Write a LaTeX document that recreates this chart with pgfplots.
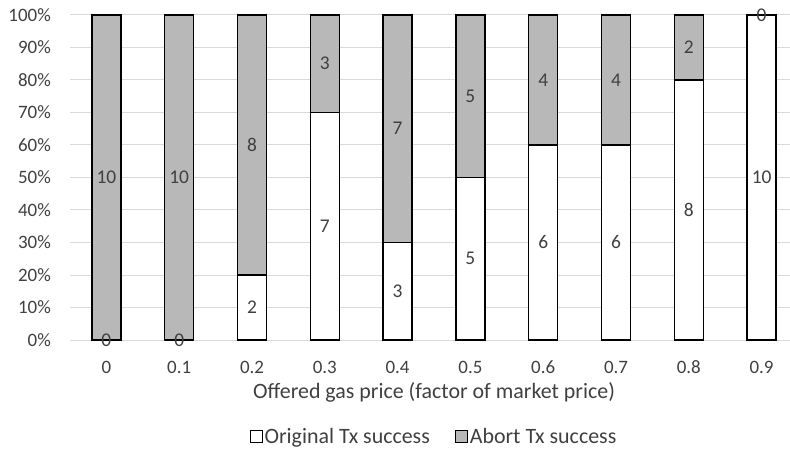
\documentclass[border=0pt]{standalone}
\usepackage{pgfplots}
\pgfplotsset{compat=1.18}
\usepackage{fontspec}
\setmainfont{Carlito}
\definecolor{abortgray}{RGB}{184,184,184}
\definecolor{gridgray}{RGB}{217,217,217}
\definecolor{txt}{RGB}{64,64,64}
\pgfplotsset{geom/.style={
  at={(0,0)}, anchor=south west,
  scale only axis, width=728bp, height=325bp,
  xmin=-0.5, xmax=9.5, ymin=0, ymax=10}}
\begin{document}
\begin{tikzpicture}
\useasboundingbox (-70bp,-112bp) rectangle (720bp,340bp);
\begin{axis}[
  geom,
  ybar stacked, bar width=29bp,
  xtick={0,...,9},
  xticklabels={0,0.1,0.2,0.3,0.4,0.5,0.6,0.7,0.8,0.9},
  ytick={0,...,10},
  yticklabels={0\%,10\%,20\%,30\%,40\%,50\%,60\%,70\%,80\%,90\%,100\%},
  axis line style={draw=none},
  major tick length=0pt,
  ymajorgrids, grid style={draw=gridgray, line width=1bp},
  tick label style={font=\fontsize{19}{22}\selectfont, text=txt, inner sep=0pt},
  yticklabel style={anchor=east, xshift=-19bp},
  xticklabel style={anchor=base, yshift=-33bp},
  xlabel={Offered gas price (factor of market price)},
  xlabel style={at={(axis description cs:0.5,-0.1815)}, anchor=base, font=\fontsize{22}{26}\selectfont, text=txt, inner sep=0pt},
  visualization depends on=rawy \as \rawy,
  nodes near coords={\pgfmathprintnumber[assume math mode=true]{\rawy}},
  every node near coord/.append style={anchor=center, font=\fontsize{19.5}{22}\selectfont, text=txt, inner sep=0pt},
  legend columns=2,
  legend style={at={(axis description cs:0.5,-0.298)}, anchor=center, draw=none, fill=none,
    font=\fontsize{22}{26}\selectfont, text=txt,
    nodes={inner sep=1.5bp},
    /tikz/every even column/.append style={column sep=24bp}},
  legend image code/.code={\draw[#1, line width=0.9bp] (0bp,-6bp) rectangle (12bp,6bp);},
]
\addplot[fill=white, draw=black, line width=1.3bp] coordinates {
  (0,0) (1,0) (2,2) (3,7) (4,3) (5,5) (6,6) (7,6) (8,8) (9,10)};
\addlegendentry{Original Tx success}
\addplot[fill=abortgray, draw=black, line width=1.3bp] coordinates {
  (0,10) (1,10) (2,8) (3,3) (4,7) (5,5) (6,4) (7,4) (8,2) (9,0)};
\addlegendentry{Abort Tx success}
\end{axis}
% labels of the zero-height segments (Original 0 at 0 and 0.1, Abort 0 at 0.9)
\begin{axis}[
  geom, hide axis, clip=false,
  nodes near coords, point meta=explicit symbolic,
  every node near coord/.append style={anchor=center, font=\fontsize{19.5}{22}\selectfont, text=txt, inner sep=0pt},
]
\addplot[only marks, mark=none] coordinates {(0,0) [0] (1,0) [0] (9,10) [0]};
\end{axis}
\end{tikzpicture}
\end{document}
